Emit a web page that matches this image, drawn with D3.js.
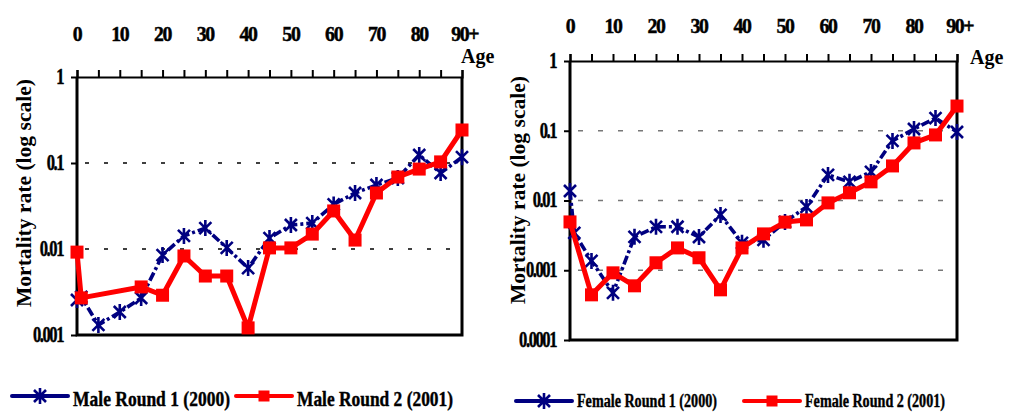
<!DOCTYPE html>
<html>
<head>
<meta charset="utf-8">
<script src="https://cdn.jsdelivr.net/npm/d3@7"></script>
<style>
  html, body { margin: 0; padding: 0; background: #fff; }
  svg { display: block; }
  text { font-family: "Liberation Serif", "Times New Roman", serif; font-weight: bold; fill: #000; }
</style>
</head>
<body>
<svg id="chart" width="1011" height="412"></svg>
<script>
// Age groups (0, 1-4, 5-9, ... 90+) plotted at their lower bound
const maleAges1 = [0, 1, 5, 10, 15, 20, 25, 30, 35, 40, 45, 50, 55, 60, 65, 70, 75, 80, 85, 90];
const maleRound1 = [0.00255, 0.00277, 0.00131, 0.00185, 0.00269, 0.0085, 0.0142, 0.0175, 0.0103, 0.0060,
                    0.0134, 0.0190, 0.0200, 0.0330, 0.0448, 0.0555, 0.0670, 0.124, 0.0765, 0.117];
const maleAges2 = [0, 1, 15, 20, 25, 30, 35, 40, 45, 50, 55, 60, 65, 70, 75, 80, 85, 90];
const maleRound2 = [0.0092, 0.0027, 0.00362, 0.0029, 0.0083, 0.00485, 0.00485, 0.00121, 0.0103, 0.0103,
                    0.0149, 0.0277, 0.0127, 0.0448, 0.0687, 0.085, 0.103, 0.242];

const femaleAges1 = [0, 1, 5, 10, 15, 20, 25, 30, 35, 40, 45, 50, 55, 60, 65, 70, 75, 80, 85, 90];
const femaleRound1 = [0.0137, 0.00343, 0.00136, 0.000475, 0.00301, 0.00419, 0.0042, 0.0030, 0.00622, 0.00247,
                      0.00273, 0.00493, 0.0081, 0.0233, 0.0185, 0.0257, 0.0714, 0.106, 0.152, 0.096];
const femaleAges2 = [0, 5, 10, 15, 20, 25, 30, 35, 40, 45, 50, 55, 60, 65, 70, 75, 80, 85, 90];
const femaleRound2 = [0.00493, 0.000444, 0.000918, 0.000598, 0.00128, 0.00209, 0.00151, 0.000524, 0.00209,
                      0.00332, 0.0049, 0.00527, 0.00924, 0.0129, 0.0185, 0.0313, 0.0669, 0.0871, 0.226];

const ageTicks = [0, 10, 20, 30, 40, 50, 60, 70, 80, 90];
const ageTickLabels = ["0", "10", "20", "30", "40", "50", "60", "70", "80", "90+"];
const maleRateTicks = [1, 0.1, 0.01, 0.001];
const maleRateLabels = ["1", "0.1", "0.01", "0.001"];
const femaleRateTicks = [1, 0.1, 0.01, 0.001, 0.0001];
const femaleRateLabels = ["1", "0.1", "0.01", "0.001", "0.0001"];

const legendMale = ["Male Round 1 (2000)", "Male Round 2 (2001)"];
const legendFemale = ["Female Round 1 (2000)", "Female Round 2 (2001)"];

const NAVY = "#000080", RED = "#ff0000";
const svg = d3.select("#chart");

const starPath = "M-6,-6L6,6M-6,6L6,-6M0,-8L0,8";

function drawStar(g, x, y) {
  g.append("path").attr("d", starPath).attr("transform", `translate(${x},${y})`)
    .attr("fill", "none").attr("stroke", NAVY).attr("stroke-width", 2.6);
}
function drawSquare(g, x, y, s) {
  g.append("rect").attr("x", x - s / 2).attr("y", y - s / 2).attr("width", s).attr("height", s).attr("fill", RED);
}

// condensed text: horizontal squeeze about an anchor point
function squeeze(ax, k) {
  return `translate(${ax},0) scale(${k},1) translate(${-ax},0)`;
}

function panel(o) {
  const g = svg.append("g");
  const x = d3.scaleLinear().domain([0, 90]).range([o.left, o.right]);
  const y = d3.scaleLog().domain([o.rateTicks[o.rateTicks.length - 1], 1]).range([o.bottom, o.top]);

  // dashed gridlines at inner decades
  g.selectAll("line.grid").data(o.rateTicks.slice(1, -1)).join("line")
    .attr("x1", o.left + 8).attr("x2", o.right - 8)
    .attr("y1", d => y(d)).attr("y2", d => y(d))
    .attr("stroke", o.gridColor).attr("stroke-width", 1.3).attr("stroke-dasharray", o.gridDash);

  // frame: left, bottom, right
  g.append("path")
    .attr("d", `M${o.left},${o.top}V${o.bottom}H${o.right}V${o.top}`)
    .attr("fill", "none").attr("stroke", "#000").attr("stroke-width", 3);

  // top age axis with upward ticks every 5 years
  const xAxis = d3.axisTop(x).tickValues(d3.range(0, 91, 5)).tickSize(7).tickFormat("");
  const ax = g.append("g").attr("transform", `translate(0,${o.top})`).call(xAxis);
  ax.select(".domain").attr("stroke", "#000").attr("stroke-width", 2.2);
  ax.selectAll(".tick line").attr("stroke", "#000").attr("stroke-width", 2);

  g.selectAll("text.age").data(ageTicks).join("text")
    .attr("x", d => x(d) + (d === 90 ? 3 : 0)).attr("y", o.ageLabelY)
    .attr("text-anchor", "middle").style("font-size", "22px")
    .attr("letter-spacing", -1.5)
    .attr("stroke", "#000").attr("stroke-width", 0.5)
    .attr("transform", d => squeeze(x(d), 0.9))
    .text((d, i) => ageTickLabels[i]);

  // left rate axis
  const yAxis = d3.axisLeft(y).tickValues(o.rateTicks).tickSize(6).tickFormat("");
  const ay = g.append("g").attr("transform", `translate(${o.left},0)`).call(yAxis);
  ay.select(".domain").remove();
  ay.selectAll(".tick line").attr("stroke", "#000").attr("stroke-width", 2);
  g.selectAll("text.rate").data(o.rateTicks).join("text")
    .attr("x", o.left - 14).attr("y", d => y(d) + 7)
    .attr("text-anchor", "end").style("font-size", "23px")
    .attr("stroke", "#000").attr("stroke-width", 0.5)
    .attr("transform", squeeze(o.left - 14, 0.72))
    .attr("letter-spacing", -2)
    .text((d, i) => o.rateLabels[i]);

  g.append("text").attr("x", o.ageX).attr("y", o.ageY).style("font-size", "20px").text("Age");

  g.append("text")
    .attr("transform", `translate(${o.titleX},${o.titleCY}) rotate(-90)`)
    .attr("text-anchor", "middle").style("font-size", "20px")
    .attr("textLength", o.titleLen).attr("lengthAdjust", "spacingAndGlyphs")
    .text("Mortality rate (log scale)");

  // series
  const line = d3.line().x(d => x(d[0])).y(d => y(d[1]));
  const s1 = d3.zip(o.ages1, o.vals1);
  const s2 = d3.zip(o.ages2, o.vals2);
  g.append("path").datum(s1).attr("d", line).attr("fill", "none")
    .attr("stroke", NAVY).attr("stroke-width", 3.6).attr("stroke-dasharray", "9,3,3,3");
  s1.forEach(d => drawStar(g, x(d[0]), y(d[1])));
  g.append("path").datum(s2).attr("d", line).attr("fill", "none")
    .attr("stroke", RED).attr("stroke-width", 5).attr("stroke-linejoin", "round");
  s2.forEach(d => drawSquare(g, x(d[0]), y(d[1]), 13));

  // legend
  const lg = svg.append("g");
  o.legend.forEach((lab, i) => {
    const L = o.legendPos[i];
    lg.append("line").attr("x1", L.x1).attr("x2", L.x2).attr("y1", o.legendY).attr("y2", o.legendY)
      .attr("stroke", i === 0 ? NAVY : RED).attr("stroke-width", 4).attr("stroke-linecap", "round");
    if (i === 0) drawStar(lg, (L.x1 + L.x2) / 2, o.legendY);
    else drawSquare(lg, (L.x1 + L.x2) / 2, o.legendY, 11);
    lg.append("text").attr("x", L.tx).attr("y", o.legendTextY).style("font-size", o.legendFont + "px")
      .attr("stroke", "#000").attr("stroke-width", 0.4)
      .attr("textLength", L.tw).attr("lengthAdjust", "spacingAndGlyphs").text(lab);
  });
}

panel({
  left: 77, right: 462, top: 77, bottom: 335,
  rateTicks: maleRateTicks, rateLabels: maleRateLabels,
  gridColor: "#000", gridDash: "4,15",
  ageLabelY: 41, ageX: 461, ageY: 63,
  titleX: 31, titleCY: 193, titleLen: 228,
  ages1: maleAges1, vals1: maleRound1, ages2: maleAges2, vals2: maleRound2,
  legend: legendMale, legendY: 396, legendTextY: 406, legendFont: 21,
  legendPos: [{ x1: 12, x2: 68, tx: 73, tw: 157 }, { x1: 236, x2: 292, tx: 297, tw: 156 }]
});

panel({
  left: 570, right: 957, top: 61, bottom: 340,
  rateTicks: femaleRateTicks, rateLabels: femaleRateLabels,
  gridColor: "#777", gridDash: "5,15",
  ageLabelY: 33, ageX: 970, ageY: 64,
  titleX: 525, titleCY: 190, titleLen: 228,
  ages1: femaleAges1, vals1: femaleRound1, ages2: femaleAges2, vals2: femaleRound2,
  legend: legendFemale, legendY: 401, legendTextY: 407, legendFont: 18,
  legendPos: [{ x1: 516, x2: 572, tx: 577, tw: 140 }, { x1: 744, x2: 800, tx: 805, tw: 140 }]
});
</script>
</body>
</html>
